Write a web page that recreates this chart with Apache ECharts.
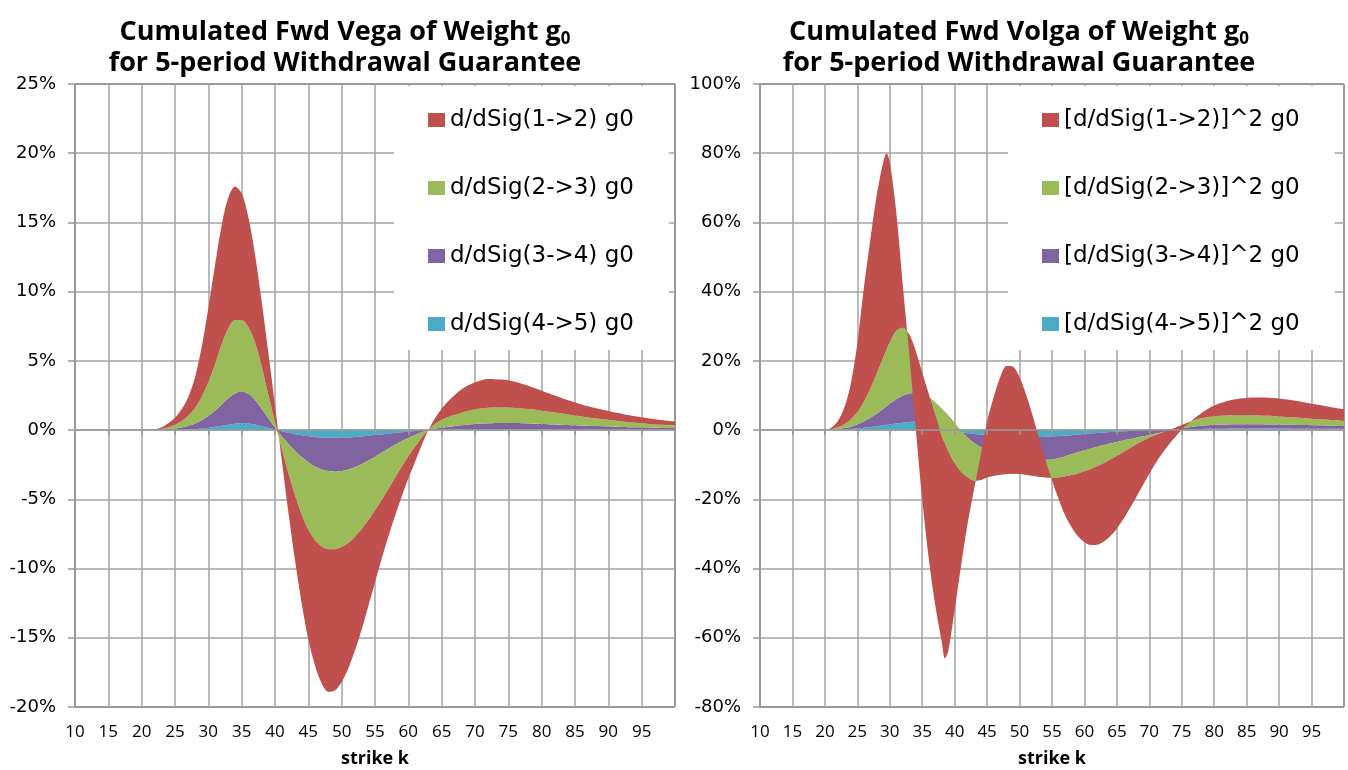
<!DOCTYPE html>
<html><head><meta charset="utf-8">
<script src="https://cdn.jsdelivr.net/npm/echarts@6/dist/echarts.min.js"></script>
<style>html,body{margin:0;padding:0;background:#fff}#c{width:1348px;height:770px}</style>
</head><body><div id="c"></div>
<script>
// ---------- data (percent, per-series contribution; the chart stacks them) ----------
const xL = [10,15,20,21,22,23,24,25,26,27,28,29,30,31,32,33,34,35,36,37,38,39,40,41,42,43,44,45,46,47,48,49,50,51,52,53,54,55,56,57,58,59,60,61,62,63,64,65,66,68,70,72,74,76,78,80,82,84,86,88,90,92,94,96,98,100];
const vegaCyan = [0,0,0,0,0,0.005,0.01,0.02,0.035,0.055,0.085,0.125,0.175,0.24,0.31,0.39,0.46,0.5,0.48,0.41,0.3,0.17,0.04,-0.08,-0.19,-0.29,-0.37,-0.44,-0.49,-0.53,-0.55,-0.56,-0.55,-0.53,-0.5,-0.46,-0.41,-0.36,-0.31,-0.26,-0.21,-0.16,-0.11,-0.07,-0.03,0,0.015,0.025,0.035,0.05,0.06,0.065,0.067,0.066,0.063,0.06,0.056,0.052,0.048,0.044,0.04,0.037,0.034,0.031,0.029,0.027];
const vegaPurple = [0,0,0,0,0.01,0.025,0.05,0.09,0.155,0.255,0.395,0.595,0.845,1.16,1.54,1.91,2.19,2.28,2.14,1.77,1.25,0.68,0.13,-0.37,-0.81,-1.21,-1.58,-1.89,-2.14,-2.31,-2.41,-2.44,-2.41,-2.32,-2.18,-2.0,-1.79,-1.56,-1.32,-1.08,-0.85,-0.64,-0.45,-0.28,-0.13,0,0.085,0.155,0.215,0.31,0.39,0.435,0.453,0.444,0.417,0.39,0.354,0.318,0.282,0.246,0.22,0.193,0.166,0.149,0.131,0.123];
const vegaGreen = [0,0,0,0,0.01,0.05,0.14,0.27,0.46,0.74,1.12,1.68,2.43,3.35,4.35,5.05,5.3,5.17,4.83,4.17,3.05,1.7,0.43,-0.85,-2.1,-3.2,-4.15,-4.87,-5.32,-5.56,-5.64,-5.6,-5.49,-5.3,-5.02,-4.69,-4.3,-3.88,-3.42,-2.91,-2.39,-1.85,-1.34,-0.85,-0.39,0.05,0.35,0.57,0.7,0.89,1.05,1.12,1.12,1.09,1.04,0.95,0.86,0.76,0.66,0.57,0.48,0.4,0.33,0.27,0.22,0.17];
const vegaRed = [0,0,0,0,0.03,0.12,0.3,0.52,0.85,1.35,2.2,3.6,5.35,7.15,8.6,9.45,9.65,9.15,7.95,6.35,4.7,3.05,1.2,-0.8,-2.8,-4.7,-6.4,-7.9,-9.05,-9.9,-10.3,-10.2,-9.75,-9.05,-8.2,-7.25,-6.2,-5.2,-4.25,-3.45,-2.75,-2.15,-1.6,-1.1,-0.55,-0.05,0.4,0.8,1.15,1.7,1.95,2.08,2.01,1.9,1.68,1.45,1.23,1.02,0.86,0.74,0.64,0.55,0.47,0.41,0.35,0.3];

const xR = [10,15,20,21,22,23,24,25,26,27,28,29,29.5,30,31,32,33,34,35,36,37,38,38.5,39,40,41,42,43,44,45,46,47,48,49,50,51,52,53,54,55,56,57,58,59,60,61,62,63,64,65,66,67,68,69,70,71,72,73,74,75,76,77,78,79,80,82,84,86,88,90,92,94,96,98,100];
const volgaCyan = [0,0,0,0.05,0.1,0.2,0.3,0.45,0.65,0.9,1.15,1.4,1.52,1.65,1.9,2.15,2.35,2.4,2.1,1.55,0.95,0.4,0.2,0,-0.35,-0.65,-0.9,-1.1,-1.3,-1.5,-1.68,-1.83,-1.95,-2.03,-2.07,-2.07,-2.04,-1.99,-1.92,-1.83,-1.72,-1.59,-1.45,-1.3,-1.14,-0.98,-0.83,-0.69,-0.56,-0.44,-0.33,-0.23,-0.14,-0.06,0.01,0.07,0.12,0.17,0.21,0.25,0.28,0.31,0.34,0.36,0.38,0.41,0.43,0.44,0.44,0.43,0.42,0.4,0.38,0.36,0.34];
const volgaPurple = [0,0,0,0.05,0.2,0.4,0.7,1.2,1.85,2.65,3.65,4.8,5.38,5.95,7.0,7.75,8.2,8.3,8.2,7.85,7.05,5.8,5.0,4.2,2.35,0.35,-1.3,-2.6,-3.6,-4.3,-4.72,-5.02,-5.25,-5.47,-5.73,-5.98,-6.26,-6.51,-6.68,-6.67,-6.38,-6.01,-5.55,-5.1,-4.71,-4.32,-3.97,-3.61,-3.29,-2.96,-2.67,-2.37,-2.06,-1.74,-1.41,-1.07,-0.72,-0.37,-0.01,0.25,0.52,0.74,0.91,1.06,1.17,1.24,1.27,1.26,1.21,1.17,1.11,1.05,0.99,0.92,0.86];
const volgaGreen = [0,0,0,0.2,0.5,1.1,2.1,3.55,5.7,8.45,11.6,14.8,16.4,17.8,19.8,19.7,17.05,12.1,6.3,1.0,-3.8,-7.8,-9.1,-10.2,-11.6,-11.7,-11.4,-10.9,-9.5,-7.9,-6.8,-6.05,-5.5,-5.1,-4.9,-4.85,-4.9,-5.0,-5.1,-5.3,-5.6,-5.8,-6.0,-6.1,-6.05,-5.9,-5.6,-5.2,-4.65,-4.0,-3.3,-2.6,-1.9,-1.3,-0.8,-0.4,-0.1,0.2,0.5,0.95,1.4,1.85,2.15,2.33,2.45,2.6,2.65,2.6,2.5,2.35,2.17,2.0,1.83,1.67,1.5];
const volgaRed = [0,0,0,0.4,1.8,4.8,10.4,19.8,32.8,43.0,51.6,56.5,56.7,52.1,34.3,12.4,-5.6,-22.3,-36.6,-47.4,-54.7,-59.4,-62.1,-58.0,-42.4,-27.0,-13.4,-2.4,7.1,16.2,22.7,28.1,31.2,30.9,28.0,23.2,17.5,11.3,5.1,-0.7,-6.1,-11.1,-15.0,-18.2,-20.5,-22.0,-22.7,-22.7,-22.1,-21.0,-19.4,-17.4,-15.2,-12.8,-10.4,-8.1,-6.0,-4.2,-2.7,-1.35,-0.3,0.6,1.5,2.35,3.1,4.15,4.75,5.15,5.3,5.15,4.9,4.55,4.1,3.65,3.3];

const namesL = ['d/dSig(1->2) g0','d/dSig(2->3) g0','d/dSig(3->4) g0','d/dSig(4->5) g0'];
const namesR = ['[d/dSig(1->2)]^2 g0','[d/dSig(2->3)]^2 g0','[d/dSig(3->4)]^2 g0','[d/dSig(4->5)]^2 g0'];
const yTicksL = {min:-20, max:25, interval:5};
const yTicksR = {min:-80, max:100, interval:20};
const xTicks = {min:10, max:100, interval:5};

// ---------- style ----------
const COL = ['#C0504D','#9BBB59','#8064A2','#4BACC6'];
const FONT = 'Open Sans';
const FONT2 = 'DejaVu Sans';
const GRIDC = '#a3a3a3';
const chart = echarts.init(document.getElementById('c'));
// rows are [value, strike] so the value column is the one ECharts stacks
const rows = (x, y) => x.map((v, i) => [y[i], v]);

function mkSeries(x, arrs, names, gi, stack) {
  const order = [3,2,1,0]; // bottom-first: cyan, purple, green, red
  return order.map(k => ({
    type:'line', name:names[k], xAxisIndex:gi*2, yAxisIndex:gi,
    encode:{x:1, y:0},
    stack, stackStrategy:'all', smooth:0.3, symbol:'none',
    lineStyle:{width:0}, areaStyle:{color:COL[k], opacity:1},
    itemStyle:{color:COL[k]}, data:rows(x, arrs[k]), z:2, silent:true
  }));
}

function xAxes(gi) {
  return [{
    type:'value', gridIndex:gi, ...xTicks, position:'bottom',
    axisLine:{show:false, onZero:false}, axisTick:{show:false},
    splitLine:{show:true, lineStyle:{color:GRIDC, width:1.5}},
    axisLabel:{formatter:v => v===100 ? '' : String(v), fontFamily:FONT, fontSize:17, color:'#000', margin:17},
    name:'strike k', nameLocation:'middle', nameGap:43,
    nameTextStyle:{fontFamily:FONT, fontWeight:'bold', fontSize:18, color:'#000'}
  },{
    type:'value', gridIndex:gi, ...xTicks, position:'bottom', z:10,
    axisLine:{show:true, onZero:true, lineStyle:{color:'#999', width:1.5}},
    axisTick:{show:true, inside:false, length:5, lineStyle:{color:'#999', width:1.5}},
    axisLabel:{show:false}, splitLine:{show:false}
  }];
}
function yAxis(gi, t) {
  return {
    type:'value', gridIndex:gi, ...t,
    axisLine:{show:true, onZero:false, lineStyle:{color:'#999', width:1.5}},
    axisTick:{show:true, length:7, lineStyle:{color:'#999', width:1.5}},
    splitLine:{show:true, lineStyle:{color:GRIDC, width:1.5}},
    axisLabel:{formatter:'{value}%', fontFamily:FONT2, fontSize:18, color:'#000', margin:19}
  };
}
function title(text, cx) {
  return {
    text, left:cx, top:12, textAlign:'center',
    textStyle:{fontFamily:FONT, fontSize:27, fontWeight:'bold', color:'#000', lineHeight:31,
      rich:{s:{fontFamily:FONT, fontSize:17, fontWeight:'bold', color:'#000', verticalAlign:'bottom', lineHeight:22}}}
  };
}
function legend(names, left) {
  return {
    data:names, orient:'vertical', left, top:86, backgroundColor:'#fff',
    padding:[21, 35, 13, 34], itemGap:42, itemWidth:17, itemHeight:14, icon:'rect',
    selectedMode:false,
    textStyle:{fontFamily:FONT2, fontSize:23, color:'#000', lineHeight:26}
  };
}
const gridBase = {show:true, borderColor:'#000', borderWidth:1, containLabel:false, outerBoundsMode:'none'};

chart.setOption({
  animation:false,
  backgroundColor:'#fff',
  title:[
    title('Cumulated Fwd Vega of Weight g{s|0}\nfor 5-period Withdrawal Guarantee', 340),
    title('Cumulated Fwd Volga of Weight g{s|0}\nfor 5-period Withdrawal Guarantee', 1014)
  ],
  legend:[legend(namesL, 394), legend(namesR, 1008)],
  grid:[
    {...gridBase, left:75, top:84, width:600, height:623},
    {...gridBase, left:760, top:84, width:584, height:623}
  ],
  xAxis:[...xAxes(0), ...xAxes(1)],
  yAxis:[yAxis(0, yTicksL), yAxis(1, yTicksR)],
  series:[
    ...mkSeries(xL, [vegaRed, vegaGreen, vegaPurple, vegaCyan], namesL, 0, 'L'),
    ...mkSeries(xR, [volgaRed, volgaGreen, volgaPurple, volgaCyan], namesR, 1, 'R')
  ]
});
</script></body></html>
